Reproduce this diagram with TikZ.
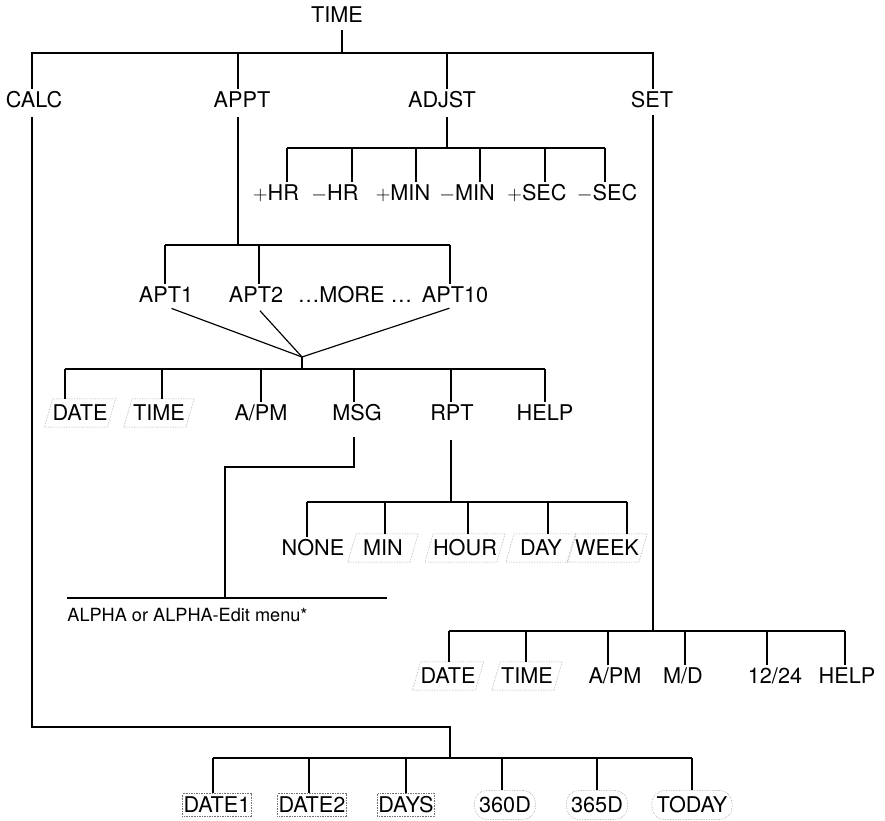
\documentclass[tikz,border=0pt]{standalone}
\usepackage{fontspec}
\setmainfont{TeX Gyre Heros}
\usepackage{tikz}
\usetikzlibrary{shapes.geometric, calc}
\newcommand{\lblfont}{\fontsize{18.5}{21}\selectfont}

\begin{document}
\begin{tikzpicture}[
  x=0.03cm, y=-0.03cm,
  every node/.style={font=\lblfont, text height=13pt, text depth=0pt, inner ysep=3pt, inner xsep=1pt},
  tree/.style={line width=1pt},
  slantkey/.style={trapezium, trapezium left angle=70, trapezium right angle=110,
    trapezium stretches body, draw=black!55, densely dotted, thin,
    minimum width=60pt, minimum height=24pt, inner xsep=0pt},
  boxkey/.style={rectangle, draw=black!55, densely dotted, thin, minimum height=19.5pt, inner xsep=1pt},
  pillkey/.style={rectangle, rounded corners=11pt, draw=black!55, densely dotted, thin,
    minimum height=25pt, inner xsep=4pt},
]
  \useasboundingbox (0,0) rectangle (885,821);

  % Top level menu
  \node (time) at (337,15) {TIME};
  \node (calc) at (34,100) {CALC};
  \node (appt) at (242,100) {APPT};
  \node (adjst) at (442,100) {ADJST};
  \node (set) at (652,100) {SET};

  \draw[tree, shorten <=3pt] (342,0 |- time.south) -- (342,53);
  \draw[tree] (32,0 |- calc.north) -- (32,53) -- (653,53) -- (653,0 |- set.north);
  \draw[tree] (238,53) -- (238,0 |- appt.north);
  \draw[tree] (447,53) -- (447,0 |- adjst.north);

  % ADJST submenu
  \node (hrp) at (276,193) {$+$HR};
  \node (hrm) at (335,193) {$-$HR};
  \node (minp) at (403,193) {$+$MIN};
  \node (minm) at (467,193) {$-$MIN};
  \node (secp) at (537,193) {$+$SEC};
  \node (secm) at (607,193) {$-$SEC};

  \draw[tree, shorten <=5pt] (447,0 |- adjst.south) -- (447,148);
  \draw[tree] (287,148) -- (605,148);
  \foreach \x/\n in {287/hrp, 352/hrm, 416/minp, 480/minm, 545/secp, 605/secm}
    \draw[tree] (\x,148) -- (\x,0 |- \n.north);

  % APPT: the ten appointments
  \node (apt1) at (166,295) {APT1};
  \node (apt2) at (256,295) {APT2};
  \node (more) at (355,295) {…MORE …};
  \node (apt10) at (455,295) {APT10};
  \coordinate (aptjoin) at (302,357);

  \draw[tree, shorten <=5pt] (238,0 |- appt.south) -- (238,245);
  \draw[tree] (165,245) -- (450,245);
  \foreach \x/\n in {165/apt1, 259/apt2, 450/apt10}
    \draw[tree] (\x,245) -- (\x,0 |- \n.north);
  \draw[tree, shorten <=5pt] (apt1.south) -- (aptjoin);
  \draw[tree, shorten <=5pt] (apt2.south) -- (aptjoin);
  \draw[tree, shorten <=5pt] (apt10.south) -- (aptjoin);
  \draw[tree] (aptjoin) -- (302,369);

  % appointment menu
  \node[slantkey] (adate) at (80,413) {DATE};
  \node[slantkey] (atime) at (159,413) {TIME};
  \node (aapm) at (261,413) {A/PM};
  \node (msg) at (357,413) {MSG};
  \node (rpt) at (452,413) {RPT};
  \node (ahelp) at (545,413) {HELP};

  \draw[tree] (65,369) -- (545,369);
  \foreach \x/\n in {65/adate, 162/atime, 261/aapm, 354/msg, 451/rpt, 545/ahelp}
    \draw[tree] (\x,369) -- (\x,0 |- \n.north);

  % message entry
  \node[anchor=west, font=\fontsize{15.5}{18}\selectfont] (alpha) at (66,614) {ALPHA or ALPHA-Edit menu*};
  \coordinate (alphatop) at (225,598);
  \draw[tree] (67,598) -- (387,598);
  \draw[tree, shorten <=11pt] (354,0 |- msg.south) -- (354,467) -- (225,467) -- (alphatop);

  % repeat interval
  \node (none) at (313,548) {NONE};
  \node[slantkey] (rmin) at (383,548) {MIN};
  \node[slantkey] (rhour) at (465,548) {HOUR};
  \node[slantkey] (rday) at (541,548) {DAY};
  \node[slantkey] (rweek) at (607,548) {WEEK};

  \draw[tree, shorten <=13pt] (451,0 |- rpt.south) -- (451,502);
  \draw[tree] (307,502) -- (627,502);
  \foreach \x/\n in {307/none, 385/rmin, 468/rhour, 548/rday, 627/rweek}
    \draw[tree] (\x,502) -- (\x,0 |- \n.north);

  % SET submenu
  \node[slantkey] (sdate) at (448,676) {DATE};
  \node[slantkey] (stime) at (527,676) {TIME};
  \node (sapm) at (615,676) {A/PM};
  \node (smd) at (683,676) {M/D};
  \node (sclock) at (775,676) {12/24};
  \node (shelp) at (847,676) {HELP};

  \draw[tree, shorten <=3pt] (653,0 |- set.south) -- (653,631);
  \draw[tree] (449,631) -- (845,631);
  \foreach \x/\n in {449/sdate, 526/stime, 608/sapm, 685/smd, 767/sclock, 845/shelp}
    \draw[tree] (\x,631) -- (\x,0 |- \n.north);

  % CALC submenu
  \node[boxkey] (cdate1) at (217,805) {DATE1};
  \node[boxkey] (cdate2) at (312,805) {DATE2};
  \node[boxkey] (cdays) at (406,805) {DAYS};
  \node[pillkey] (c360) at (505,805) {360D};
  \node[pillkey] (c365) at (597,805) {365D};
  \node[pillkey] (ctoday) at (692,805) {TODAY};

  \draw[tree, shorten <=5pt] (32,0 |- calc.south) -- (32,727) -- (450,727) -- (450,758);
  \draw[tree] (213,758) -- (692,758);
  \foreach \x/\n in {213/cdate1, 309/cdate2, 406/cdays, 502/c360, 597/c365, 692/ctoday}
    \draw[tree] (\x,758) -- (\x,0 |- \n.north);
\end{tikzpicture}
\end{document}
